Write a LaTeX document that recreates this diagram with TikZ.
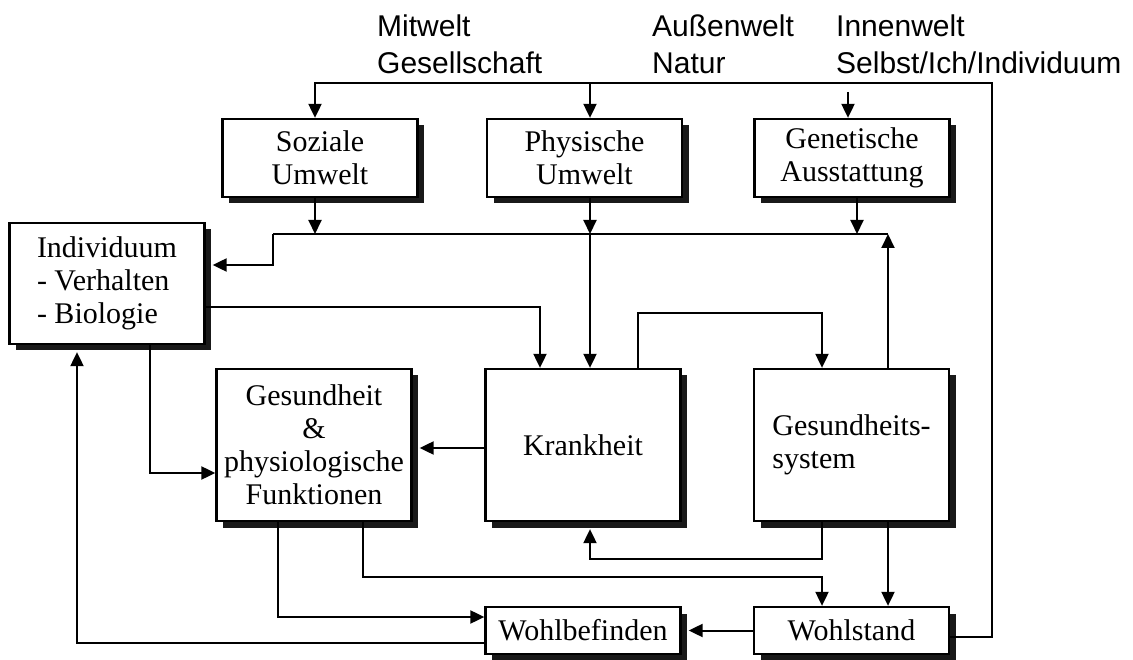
\documentclass[tikz,border=0pt]{standalone}
\usepackage{fontspec}
\setmainfont{Liberation Serif}
\newfontfamily\weltfont{Liberation Sans}
\usetikzlibrary{arrows.meta,shadows,positioning}

\begin{document}
\begin{tikzpicture}[x=1pt,y=-1pt,
    block/.style={draw, line width=2.3pt, fill=white, minimum width=195pt,
      align=center, inner sep=2pt, font=\fontsize{30}{33}\selectfont,
      drop shadow={shadow xshift=6.5pt, shadow yshift=-6.5pt, fill=black!90, opacity=1}},
    conn/.style={line width=2pt},
    arr/.style={conn, -{Triangle[length=14pt,width=13pt]}},
    welt/.style={anchor=north west, inner sep=0pt, align=left,
      font=\weltfont\fontsize{30}{37}\selectfont}]
  \useasboundingbox (0,0) rectangle (1133,660);
  % Labels on top
  \node[welt] (mitwelt) at (377,15) {Mitwelt\\Gesellschaft};
  \node[welt] (aussenwelt) at (652,15) {Außenwelt\\Natur};
  \node[welt] (innenwelt) at (836,15) {Innenwelt\\Selbst/Ich/Individuum};
  % Boxes
  \node[block, minimum height=78pt] (soz) at (320,158) {Soziale\\Umwelt};
  \node[block, minimum height=78pt] (phy) at (584.5,158) {Physische\\Umwelt};
  \node[block, minimum height=78pt] (gen) at (852,158) {Genetische\\Ausstattung};
  \node[block, minimum height=121pt, align=left] (ind) at (107,283.5) {Individuum\\- Verhalten\\- Biologie};
  \node[block, minimum height=152pt] (ges) at (314,445) {Gesundheit\\\&\\physiologische\\Funktionen};
  \node[block, minimum height=152pt] (kra) at (583,445) {Krankheit};
  \node[block, minimum height=152pt, align=left] (sys) at (851.5,445) {Gesundheits-\\system};
  \node[block, minimum height=47pt] (wbf) at (583,630.5) {Wohlbefinden};
  \node[block, minimum height=47pt] (wst) at (851.5,630.5) {Wohlstand};
  % Outer loop
  \coordinate (tr) at (992,83);
  \draw[arr] ([yshift=-6.5pt]wst.east) -| (tr) -| ([xshift=-5pt]soz.north);
  \draw[arr] ([xshift=5.5pt]phy.north |- tr) -- ([xshift=5.5pt]phy.north);
  \coordinate (inn) at (848,92);
  \draw[arr] (inn) -- (inn |- gen.north);
  % Distribution line
  \coordinate (dl) at (273,234);
  \coordinate (dr) at (888,234);
  \draw[conn] (dl) -- (dr);
  \draw[arr] ([xshift=-5pt]soz.south) -- ([xshift=-5pt]soz.south |- dl);
  \draw[arr] ([xshift=5.5pt]phy.south) -- ([xshift=5.5pt]phy.south |- dl);
  \draw[arr] ([xshift=5pt]gen.south) -- ([xshift=5pt]gen.south |- dl);
  \draw[arr] ([xshift=36.5pt]sys.north) -- (dr);
  \draw[arr] ([xshift=7pt]kra.north |- dl) -- ([xshift=7pt]kra.north);
  \draw[arr] (dl) |- ([xshift=7pt,yshift=18.5pt]ind.east);
  % Individuum
  \draw[arr] ([yshift=-23.5pt]ind.east) -| ([xshift=-43pt]kra.north);
  \draw[arr] ([xshift=43pt]ind.south) |- ([yshift=-28pt]ges.west);
  \draw[arr] ([yshift=-12.5pt]wbf.west) -| ([xshift=-30pt,yshift=-7pt]ind.south);
  % Krankheit and Gesundheitssystem
  \draw[arr] ([yshift=-3pt]kra.west) -- ([xshift=7pt,yshift=-3pt]ges.east);
  \draw[arr] ([xshift=55pt]kra.north) -- ++(0,-55) -| ([xshift=-29.5pt]sys.north);
  \draw[arr] ([xshift=-29.5pt]sys.south) -- ++(0,37) -| ([xshift=7pt,yshift=-7pt]kra.south);
  \draw[arr] ([xshift=36.5pt]sys.south) -- ([xshift=36.5pt]wst.north);
  % Gesundheit to the bottom row
  \draw[arr] ([xshift=49pt]ges.south) -- ++(0,55) -| ([xshift=-29.5pt]wst.north);
  \draw[arr] ([xshift=-36pt]ges.south) |- ([yshift=13.5pt]wbf.west);
  \draw[arr] (wst.west) -- ([xshift=7pt]wbf.east);
\end{tikzpicture}
\end{document}
